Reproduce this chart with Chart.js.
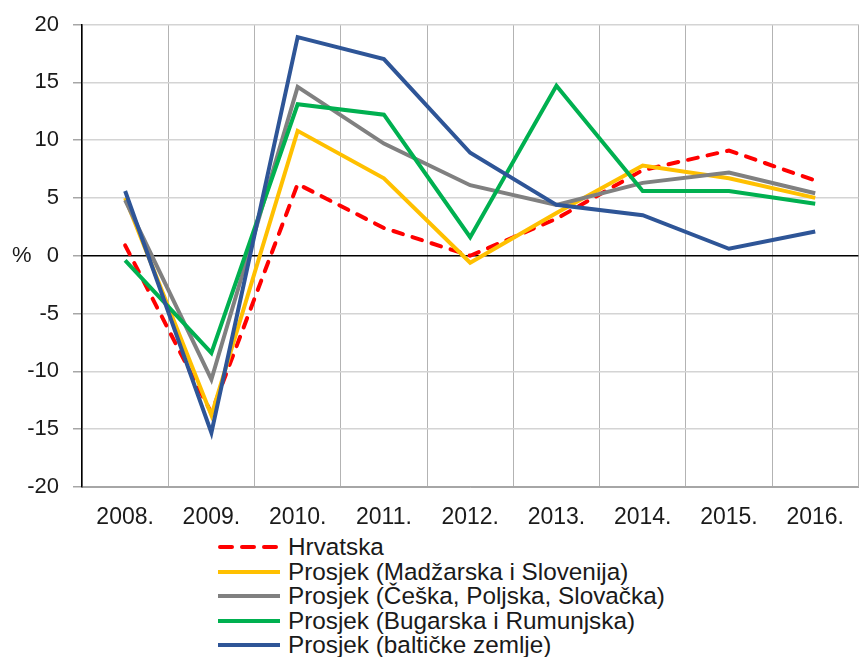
<!DOCTYPE html>
<html>
<head>
<meta charset="utf-8">
<script src="https://cdn.jsdelivr.net/npm/chart.js@4/dist/chart.umd.min.js"></script>
<style>
  body { margin: 0; background: #fff; font-family: "Liberation Sans", Arial, sans-serif; }
  #wrap { position: relative; width: 861px; height: 530px; }
  #legend { margin: 5px 0 0 216px; }
  .row { display: flex; align-items: center; height: 24.5px; font-size: 24.3px; color: #1a1a1a; white-space: nowrap; }
  .row svg { margin-right: 6px; }
</style>
</head>
<body>
<div id="wrap"><canvas id="myChart"></canvas></div>
<div id="legend"></div>
<script>
// categories and series (% change)
var labels = ['2008.', '2009.', '2010.', '2011.', '2012.', '2013.', '2014.', '2015.', '2016.'];
var hrvatska = [0.9, -13.6, 6.2, 2.4, 0.0, 3.2, 7.4, 9.1, 6.5];
var madzarskaSlovenija = [5.0, -13.8, 10.8, 6.7, -0.6, 3.7, 7.8, 6.7, 5.0];
var ceskaPoljskaSlovacka = [4.8, -10.7, 14.6, 9.7, 6.1, 4.4, 6.3, 7.2, 5.4];
var bugarskaRumunjska = [-0.4, -8.4, 13.1, 12.2, 1.6, 14.7, 5.6, 5.6, 4.5];
var balticke = [5.6, -15.3, 18.9, 17.0, 8.9, 4.4, 3.5, 0.6, 2.1];

var seriesNames = [
  'Hrvatska',
  'Prosjek (Madžarska i Slovenija)',
  'Prosjek (Češka, Poljska, Slovačka)',
  'Prosjek (Bugarska i Rumunjska)',
  'Prosjek (baltičke zemlje)'
];
var seriesData = [hrvatska, madzarskaSlovenija, ceskaPoljskaSlovacka, bugarskaRumunjska, balticke];
var seriesColors = ['#FF0000', '#FFC000', '#808080', '#00B050', '#2E5597'];

var yMin = -20, yMax = 20, yStep = 5;

var datasets = seriesData.map(function (d, i) {
  return {
    label: seriesNames[i],
    data: d,
    borderColor: seriesColors[i],
    backgroundColor: seriesColors[i],
    borderWidth: 4,
    borderDash: i === 0 ? [10, 10] : [],
    borderCapStyle: i === 0 ? 'round' : 'butt',
    borderJoinStyle: 'miter',
    pointRadius: 0,
    tension: 0,
    fill: false,
    order: seriesData.length - 1 - i
  };
});

// "%" next to the zero tick
var percentLabel = {
  id: 'percentLabel',
  afterDraw: function (chart) {
    var c = chart.ctx;
    var y = chart.scales.y.getPixelForValue(0);
    c.save();
    c.font = '22px "Liberation Sans", Arial';
    c.fillStyle = '#1a1a1a';
    c.textBaseline = 'middle';
    c.textAlign = 'left';
    c.fillText('%', 12, y);
    c.restore();
  }
};

var ctx = document.getElementById('myChart').getContext('2d');

var myChart = new Chart(ctx, {
  type: 'line',
  data: { labels: labels, datasets: datasets },
  plugins: [percentLabel],
  options: {
    responsive: true,
    maintainAspectRatio: false,
    animation: false,
    layout: { padding: { top: 10, right: 0, bottom: 0, left: 0 } },
    plugins: { legend: { display: false }, tooltip: { enabled: false } },
    scales: {
      x: {
        offset: true,
        grid: { offset: true, color: '#b3b3b3', drawTicks: false },
        border: { color: '#a6a6a6' },
        ticks: { color: '#1a1a1a', font: { size: 23, family: '"Liberation Sans", Arial' }, padding: 17, maxRotation: 0 },
        afterFit: function (scale) { scale.height = 43; }
      },
      y: {
        min: yMin,
        max: yMax,
        ticks: { stepSize: yStep, color: '#1a1a1a', font: { size: 22, family: '"Liberation Sans", Arial', lineHeight: 0.95 }, padding: 14 },
        grid: {
          tickLength: 9,
          tickColor: '#a6a6a6',
          color: function (c) {
            if (c.tick && c.tick.value === 0) return '#000000';
            if (c.tick && c.tick.value === yMin) return '#a6a6a6';
            return '#d4d4d4';
          },
          lineWidth: 1.5
        },
        border: { color: '#000000', width: 1.5 },
        afterFit: function (scale) { scale.width = 82; }
      }
    }
  }
});

// legend below the chart
var legend = document.getElementById('legend');
seriesNames.forEach(function (name, i) {
  var row = document.createElement('div');
  row.className = 'row';
  var dash = i === 0 ? ' stroke-dasharray="12 10" stroke-linecap="round"' : '';
  var x1 = i === 0 ? 4 : 2, x2 = i === 0 ? 62 : 64;
  row.innerHTML = '<svg width="66" height="8"><line x1="' + x1 + '" y1="4" x2="' + x2 + '" y2="4" stroke="' +
    seriesColors[i] + '" stroke-width="4"' + dash + '/></svg><span>' + name + '</span>';
  legend.appendChild(row);
});
</script>
</body>
</html>
